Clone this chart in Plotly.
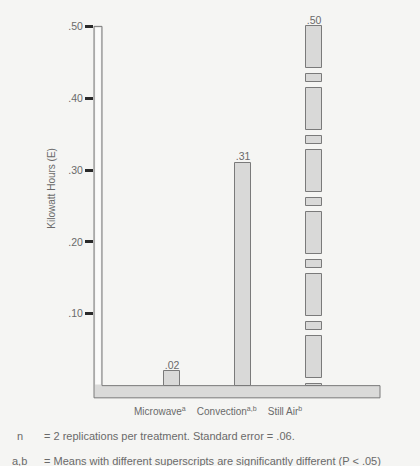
import plotly.graph_objects as go

# Energy used per cooking treatment
categories = ["Microwave", "Convection", "Still Air"]
superscripts = ["a", "a,b", "b"]
kwh = [0.02, 0.31, 0.50]

y_tick_values = [0.10, 0.20, 0.30, 0.40, 0.50]
y_tick_labels = [".10", ".20", ".30", ".40", ".50"]

footnote_keys = ["n", "a,b"]
footnote_texts = [
    "= 2 replications per treatment. Standard error = .06.",
    "= Means with different superscripts are significantly different (P < .05)",
]

# ---- styling -------------------------------------------------------------
PAPER = "#f5f5f3"
TEXT = "#6a6a6a"
BAR_FILL = "#d9d9d8"
BAR_LINE = "#7a7a7a"
FONT = "Liberation Sans"
BAR_W = 0.225
BROKEN = "Still Air"          # drawn as a broken (interrupted) column
# broken-column rhythm as fractions of one period: (length, visible)
BREAK_PATTERN = [(0.67, True), (0.105, False), (0.12, True), (0.105, False)]
PERIODS = 5.8
NBSP = "\u00a0"


def bar_label(v):
    return f"{v:.2f}".lstrip("0")


def broken_pieces(total):
    period = total / PERIODS
    bases, heights = [], []
    top = total
    i = 0
    while top > 1e-9:
        frac, visible = BREAK_PATTERN[i % len(BREAK_PATTERN)]
        bottom = max(top - frac * period, 0.0)
        if visible:
            bases.append(bottom)
            heights.append(top - bottom)
        top = bottom
        i += 1
    return bases, heights


solid_x = [c for c in categories if c != BROKEN]
solid_y = [v for c, v in zip(categories, kwh) if c != BROKEN]
broken_total = kwh[categories.index(BROKEN)]
b_base, b_height = broken_pieces(broken_total)

fig = go.Figure()
fig.add_trace(go.Bar(
    x=solid_x, y=solid_y, width=BAR_W,
    marker=dict(color=BAR_FILL, line=dict(color=BAR_LINE, width=1)),
    hoverinfo="skip", showlegend=False,
))
fig.add_trace(go.Bar(
    x=[BROKEN] * len(b_height), y=b_height, base=b_base, width=BAR_W,
    marker=dict(color=BAR_FILL, line=dict(color=BAR_LINE, width=1)),
    hoverinfo="skip", showlegend=False,
))
fig.add_trace(go.Scatter(
    x=categories, y=kwh, mode="text",
    text=[bar_label(v) for v in kwh], textposition="top center",
    textfont=dict(family=FONT, size=10.5, color=TEXT),
    cliponaxis=False, hoverinfo="skip", showlegend=False,
))

# L-shaped frame acting as the axes
y_top = max(y_tick_values)
x_in = 0.028
y_low = -0.017
fig.add_shape(
    type="path", xref="paper", yref="y", layer="below",
    path=(f"M 0,{y_top} L 0,{y_low} L 1,{y_low} L 1,0 "
          f"L {x_in},0 L {x_in},{y_top} Z"),
    fillcolor="#dadad9", line=dict(color=BAR_LINE, width=1),
)
fig.add_shape(
    type="rect", xref="paper", yref="y", layer="below",
    x0=0.004, x1=x_in - 0.004, y0=0.0015, y1=y_top - 0.0015,
    fillcolor="#fbfbfa", line=dict(width=0),
)

# axis title
fig.add_annotation(
    text="Kilowatt Hours (E)", textangle=-90,
    xref="paper", yref="y", x=-0.178, y=0.275,
    showarrow=False, font=dict(family=FONT, size=10, color=TEXT),
)

# treatment names set as one caption line beneath the frame
caption = (NBSP * 4).join(f"{c}<sup>{s}</sup>" for c, s in zip(categories, superscripts))
fig.add_annotation(
    text=caption, xref="paper", yref="paper", x=0.432, y=-0.028,
    xanchor="center", yanchor="middle", showarrow=False,
    font=dict(family=FONT, size=10, color=TEXT),
)

# footnotes
for i, (k, t) in enumerate(zip(footnote_keys, footnote_texts)):
    yy = -0.094 - i * 0.062
    fig.add_annotation(text=k, xref="paper", yref="paper",
                       x=-0.293 if len(k) > 1 else -0.276,
                       y=yy, xanchor="left", yanchor="middle", showarrow=False,
                       font=dict(family=FONT, size=11, color=TEXT))
    fig.add_annotation(text=t, xref="paper", yref="paper", x=-0.182,
                       y=yy, xanchor="left", yanchor="middle", showarrow=False,
                       font=dict(family=FONT, size=11, color=TEXT))

fig.update_layout(
    width=420, height=466,
    margin=dict(l=94, r=40, t=12, b=66),
    paper_bgcolor=PAPER, plot_bgcolor=PAPER,
    barmode="overlay", bargap=0,
    font=dict(family=FONT, size=9, color=TEXT),
    xaxis=dict(
        type="category", range=[-1.099, 2.929],
        categoryorder="array", categoryarray=categories,
        showticklabels=False,
        showgrid=False, zeroline=False, showline=False, ticks="",
    ),
    yaxis=dict(
        range=[-0.02, 0.52],
        tickvals=y_tick_values, ticktext=y_tick_labels,
        ticks="outside", ticklen=8, tickwidth=3, tickcolor="#2a2a2a",
        showgrid=False, zeroline=False, showline=False,
        tickfont=dict(family=FONT, size=10.5, color=TEXT),
    ),
)

fig.write_html("out.html")
